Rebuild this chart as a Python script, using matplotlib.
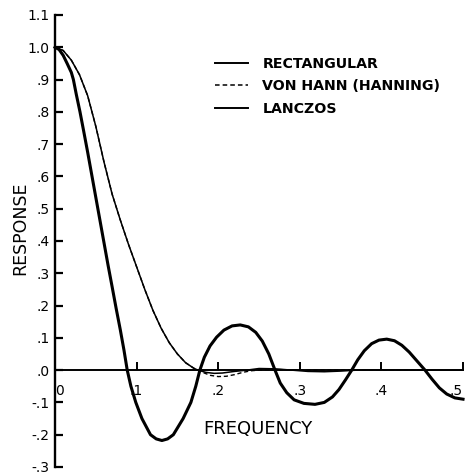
import matplotlib
matplotlib.use("Agg")
import matplotlib.pyplot as plt
from matplotlib.lines import Line2D

# readings from the picture (frequency, response)
rect_freq = [0.0, 0.005, 0.01, 0.015, 0.02, 0.0225, 0.026, 0.0306, 0.035, 0.04,
             0.045, 0.05, 0.055, 0.06, 0.065, 0.07, 0.075, 0.08, 0.0845,
             0.0885, 0.093, 0.099, 0.1065, 0.117, 0.124, 0.131, 0.138, 0.145,
             0.157, 0.1665, 0.1725, 0.1775, 0.183, 0.19, 0.198, 0.207, 0.217,
             0.227, 0.237, 0.246, 0.254, 0.262, 0.2696, 0.276, 0.284, 0.293,
             0.305, 0.3186, 0.33, 0.34, 0.348, 0.356, 0.3636, 0.371, 0.379,
             0.388, 0.397, 0.4065, 0.416, 0.425, 0.434, 0.443, 0.4534, 0.462,
             0.471, 0.48, 0.49, 0.5]
rect_resp = [1.0, 0.993, 0.975, 0.949, 0.922, 0.90, 0.855, 0.80, 0.742, 0.675,
             0.605, 0.535, 0.465, 0.395, 0.325, 0.258, 0.19, 0.125, 0.062,
             0.0, -0.05, -0.10, -0.15, -0.20, -0.213, -0.218, -0.213, -0.20,
             -0.15, -0.10, -0.05, 0.0, 0.04, 0.075, 0.102, 0.124, 0.137,
             0.14, 0.134, 0.117, 0.09, 0.05, 0.0, -0.04, -0.07, -0.092,
             -0.103, -0.106, -0.10, -0.083, -0.06, -0.03, 0.0, 0.032, 0.06,
             0.082, 0.093, 0.096, 0.091, 0.077, 0.056, 0.03, 0.0, -0.028,
             -0.055, -0.074, -0.086, -0.09]

lanc_freq = [0.0, 0.01, 0.02, 0.03, 0.04, 0.05, 0.06, 0.07, 0.08, 0.09, 0.10,
             0.11, 0.12, 0.13, 0.14, 0.15, 0.16, 0.17, 0.175, 0.185, 0.195,
             0.205, 0.22, 0.235, 0.25, 0.27, 0.29, 0.31, 0.33, 0.35, 0.37,
             0.40, 0.45, 0.5]
lanc_resp = [1.0, 0.99, 0.96, 0.915, 0.85, 0.755, 0.645, 0.545, 0.465, 0.39, 0.32,
             0.25, 0.185, 0.13, 0.085, 0.05, 0.023, 0.006, 0.0, -0.007, -0.01,
             -0.009, -0.004, 0.0, 0.005, 0.004, 0.0, -0.004, -0.005, -0.003, 0.0,
             0.001, 0.0, 0.0]

hann_freq = [0.0, 0.01, 0.02, 0.03, 0.04, 0.05, 0.06, 0.07, 0.08, 0.09, 0.10,
             0.11, 0.12, 0.13, 0.14, 0.15, 0.16, 0.17, 0.175, 0.18, 0.19, 0.20,
             0.21, 0.22, 0.23, 0.24, 0.25, 0.27, 0.30, 0.40, 0.5]
hann_resp = [1.0, 0.99, 0.96, 0.915, 0.85, 0.755, 0.645, 0.545, 0.465, 0.39, 0.32,
             0.25, 0.185, 0.13, 0.085, 0.05, 0.023, 0.006, 0.0, -0.006, -0.016,
             -0.02, -0.019, -0.014, -0.007, -0.002, 0.0, 0.002, 0.0, 0.0, 0.0]

yticks = [-0.3, -0.2, -0.1, 0.0, 0.1, 0.2, 0.3, 0.4, 0.5, 0.6, 0.7, 0.8, 0.9, 1.0, 1.1]
ytick_labels = ['-.3', '-.2', '-.1', '.0', '.1', '.2', '.3', '.4', '.5', '.6',
                '.7', '.8', '.9', '1.0', '1.1']
xticks = [0.0, 0.1, 0.2, 0.3, 0.4, 0.5]
xtick_labels = ['0', '.1', '.2', '.3', '.4', '.5']
legend_labels = ['RECTANGULAR', 'VON HANN (HANNING)', 'LANCZOS']

fig = plt.figure(figsize=(4.67, 4.74), dpi=100)
ax = fig.add_axes([0.1178, 0.0148, 0.8737, 0.9536])

ax.plot(rect_freq, rect_resp, color='black', lw=2.2, clip_on=False,
        solid_joinstyle='round')
ax.plot(lanc_freq, lanc_resp, color='black', lw=1.1, clip_on=False)
ax.plot(hann_freq, hann_resp, color='black', lw=1.0, dashes=(3, 2), clip_on=False)

ax.set_xlim(0, 0.5)
ax.set_ylim(-0.3, 1.1)

for side in ['top', 'right']:
    ax.spines[side].set_visible(False)
ax.spines['left'].set_linewidth(1.7)
ax.spines['bottom'].set_position(('data', 0))
ax.spines['bottom'].set_linewidth(1.4)

ax.set_yticks(yticks)
ax.set_yticklabels(ytick_labels, fontsize=10)
ax.tick_params(axis='y', direction='in', length=6, width=1.6, pad=4)

ax.set_xticks(xticks)
ax.set_xticklabels(xtick_labels, fontsize=10)
ax.tick_params(axis='x', direction='in', length=6, width=1.4, pad=10)
labels = ax.get_xticklabels()
labels[0].set_horizontalalignment('left')
labels[-1].set_horizontalalignment('right')

ax.text(-0.043, 0.44, 'RESPONSE', rotation=90, fontsize=12.5,
        ha='center', va='center')
ax.text(0.249, -0.182, 'FREQUENCY', fontsize=13, ha='center', va='center')

handles = [Line2D([], [], color='black', lw=1.4),
           Line2D([], [], color='black', lw=1.1, dashes=(3, 2)),
           Line2D([], [], color='black', lw=1.4)]
leg = ax.legend(handles, legend_labels, loc='upper left',
                bbox_to_anchor=(0.392, 0.908), frameon=False,
                prop={'size': 10.2, 'weight': 'bold'},
                handlelength=2.3, handletextpad=1.05, labelspacing=0.62,
                borderpad=0, borderaxespad=0)

fig.savefig('out.png', dpi=100)
